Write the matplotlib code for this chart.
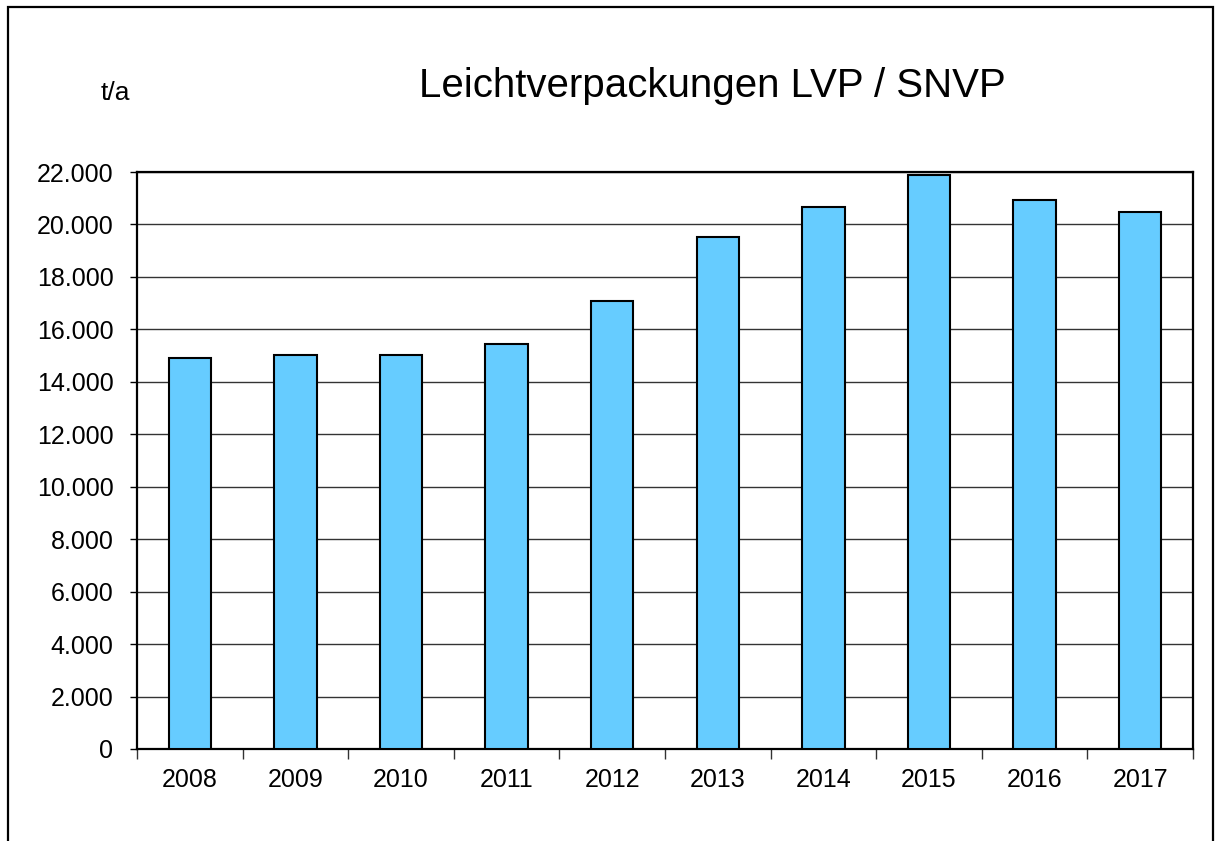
import matplotlib
matplotlib.use("Agg")
import matplotlib.pyplot as plt
import matplotlib.patches as mpatches
from matplotlib.ticker import FuncFormatter, MultipleLocator

plt.rcParams["font.family"] = ["Liberation Sans", "DejaVu Sans"]

# ── Data ────────────────────────────────────────────────────────────────
years = ["2008", "2009", "2010", "2011", "2012", "2013", "2014", "2015", "2016", "2017"]
tonnes = [14900, 15020, 15010, 15440, 17080, 19530, 20670, 21900, 20920, 20490]

BAR_COLOR = "#66CCFF"

fig = plt.figure(figsize=(12.17, 8.41), dpi=100, facecolor="white")

# outer frame (bottom edge lies below the picture)
frame = mpatches.Rectangle((8 / 1217, -0.05), (1213 - 8) / 1217, 1.05 - 7 / 841,
                           transform=fig.transFigure, fill=False,
                           edgecolor="black", linewidth=1.6)
fig.patches.append(frame)

ax = fig.add_axes([137 / 1217, 92 / 841, (1193 - 137) / 1217, (749 - 172) / 841])

x = list(range(len(years)))
ax.bar(x, tonnes, width=0.4, color=BAR_COLOR, edgecolor="black", linewidth=1.5, zorder=3)

ax.set_xlim(-0.5, len(years) - 0.5)
ax.set_ylim(0, 22000)
ax.yaxis.set_major_locator(MultipleLocator(2000))
ax.yaxis.set_major_formatter(FuncFormatter(lambda v, p: f"{int(v):,}".replace(",", ".")))
ax.grid(axis="y", color="#333333", linewidth=1.0, zorder=1)

# category labels centred, ticks between categories
ax.set_xticks([i + 0.5 for i in x[:-1]] + [-0.5, len(years) - 0.5])
ax.set_xticklabels([])
ax.set_xticks(x, minor=True)
ax.set_xticklabels(years, minor=True)
ax.tick_params(axis="x", which="major", direction="out", length=7, width=1.0, color="#333333")
ax.tick_params(axis="x", which="minor", length=0, pad=14, labelsize=18)
ax.tick_params(axis="y", direction="out", length=5, width=1.0, pad=12, labelsize=18)

for s in ax.spines.values():
    s.set_linewidth(1.6)
    s.set_color("black")

fig.text(712 / 1217, 1 - 97 / 841, "Leichtverpackungen LVP / SNVP", ha="center", va="baseline",
         fontsize=29)
fig.text(115 / 1217, 1 - 100 / 841, "t/a", ha="center", va="baseline", fontsize=19)

fig.savefig("out.png", dpi=100, facecolor="white")
